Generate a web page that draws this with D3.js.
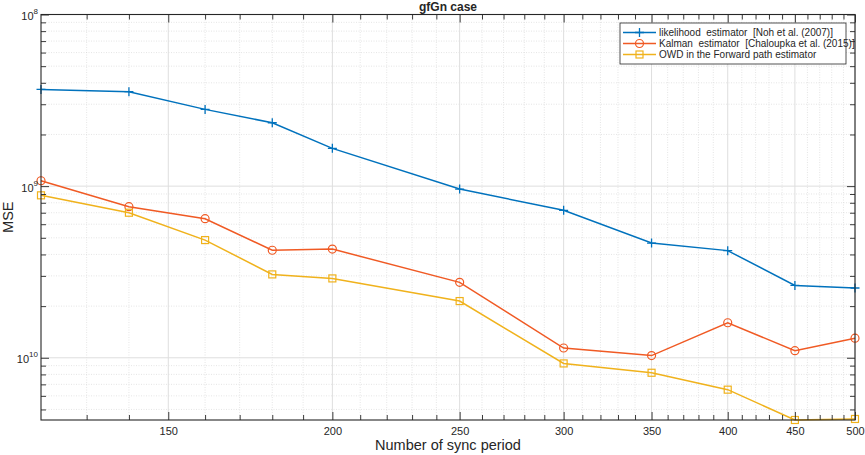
<!DOCTYPE html>
<html>
<head>
<meta charset="utf-8">
<script src="https://cdn.jsdelivr.net/npm/d3@7"></script>
<style>
  body { margin: 0; background: #fff; }
  text { font-family: "Liberation Sans", Arial, sans-serif; fill: #262626; }
</style>
</head>
<body>
<div id="chart"></div>
<script>
// values
const syncPeriods = [120, 140, 160, 180, 200, 250, 300, 350, 400, 450, 500];
const likelihoodMse = [3.66e-9, 3.55e-9, 2.80e-9, 2.34e-9, 1.66e-9, 9.62e-10, 7.23e-10, 4.66e-10, 4.21e-10, 2.64e-10, 2.55e-10];
const kalmanMse = [1.075e-9, 7.59e-10, 6.46e-10, 4.23e-10, 4.30e-10, 2.75e-10, 1.14e-10, 1.03e-10, 1.60e-10, 1.10e-10, 1.30e-10];
const owdMse = [8.84e-10, 7.00e-10, 4.85e-10, 3.06e-10, 2.90e-10, 2.14e-10, 9.27e-11, 8.18e-11, 6.52e-11, 4.34e-11, 4.40e-11];
const seriesNames = [
  'likelihood  estimator  [Noh et al. (2007)]',
  'Kalman  estimator  [Chaloupka et al. (2015)]',
  'OWD in the Forward path estimator'
];
const xTicks = [150, 200, 250, 300, 350, 400, 450, 500];
const yTicks = [1e-8, 1e-9, 1e-10];
const yTickExponents = ['8', '9', '10'];

const width = 865, height = 455;
const margin = { top: 14.5, right: 10, bottom: 35, left: 41 };
const colors = ['#0072BD', '#F05A24', '#F0B21C'];
const markers = ['plus', 'circle', 'square'];

const svg = d3.select('#chart').append('svg')
  .attr('width', width).attr('height', height);

const x = d3.scaleLog().domain([120, 500]).range([margin.left, width - margin.right]);
const y = d3.scaleLog().domain([1e-8, 4.34e-11]).range([margin.top, height - margin.bottom]);
const [x0, x1] = x.range();
const [y0, y1] = y.range();

// minor tick positions
const xMinor = d3.range(130, 500, 10).filter((v) => !xTicks.includes(v));
const yMinor = [];
[1e-11, 1e-10, 1e-9].forEach((d) => {
  for (let k = 2; k <= 9; k++) {
    const v = +(k * d).toPrecision(3);
    if (v >= 4.34e-11 && v <= 1e-8) yMinor.push(v);
  }
});

// grid
const grid = svg.append('g');
grid.selectAll('.xminor').data(xMinor).enter().append('line')
  .attr('x1', (d) => x(d)).attr('x2', (d) => x(d)).attr('y1', y0).attr('y2', y1)
  .attr('stroke', '#d4d4d4').attr('stroke-width', 0.6).attr('stroke-dasharray', '1,1.5');
grid.selectAll('.yminor').data(yMinor).enter().append('line')
  .attr('x1', x0).attr('x2', x1).attr('y1', (d) => y(d)).attr('y2', (d) => y(d))
  .attr('stroke', '#d4d4d4').attr('stroke-width', 0.6).attr('stroke-dasharray', '1,1.5');
grid.selectAll('.xmajor').data(xTicks).enter().append('line')
  .attr('x1', (d) => x(d)).attr('x2', (d) => x(d)).attr('y1', y0).attr('y2', y1)
  .attr('stroke', '#dedede').attr('stroke-width', 1);
grid.selectAll('.ymajor').data(yTicks).enter().append('line')
  .attr('x1', x0).attr('x2', x1).attr('y1', (d) => y(d)).attr('y2', (d) => y(d))
  .attr('stroke', '#dedede').attr('stroke-width', 1);

// series lines and markers
const allSeries = [likelihoodMse, kalmanMse, owdMse];
const line = d3.line().x((d) => x(d[0])).y((d) => y(d[1]));

allSeries.forEach((vals, i) => {
  const pts = syncPeriods.map((p, j) => [p, vals[j]]);
  svg.append('path').datum(pts)
    .attr('d', line).attr('fill', 'none')
    .attr('stroke', colors[i]).attr('stroke-width', 1.5);
  const g = svg.append('g');
  pts.forEach((p) => drawMarker(g, markers[i], x(p[0]), y(p[1]), colors[i]));
});

function drawMarker(g, type, cx, cy, color) {
  if (type === 'plus') {
    g.append('path').attr('d', `M${cx - 4.5},${cy}H${cx + 4.5}M${cx},${cy - 4.5}V${cy + 4.5}`)
      .attr('stroke', color).attr('stroke-width', 1.3);
  } else if (type === 'circle') {
    g.append('circle').attr('cx', cx).attr('cy', cy).attr('r', 4)
      .attr('fill', 'none').attr('stroke', color).attr('stroke-width', 1.2);
  } else {
    g.append('rect').attr('x', cx - 3.5).attr('y', cy - 3.5).attr('width', 7).attr('height', 7)
      .attr('fill', 'none').attr('stroke', color).attr('stroke-width', 1.2);
  }
}

// axes (ticks point inward, on all four sides)
const axisColor = '#262626';
function styleAxis(g) {
  g.select('.domain').remove();
  g.selectAll('.tick line').attr('stroke', axisColor).attr('stroke-width', 0.9);
}
svg.append('g').attr('transform', `translate(0,${y1})`)
  .call(d3.axisBottom(x).tickValues(xTicks).tickSize(-8).tickPadding(7).tickFormat(d3.format('d')))
  .call(styleAxis)
  .call((g) => g.selectAll('text').attr('font-size', 11).attr('fill', axisColor)
    .attr('font-family', '"Liberation Sans", Arial, sans-serif'));
svg.append('g').attr('transform', `translate(0,${y1})`)
  .call(d3.axisBottom(x).tickValues(xMinor).tickSize(-5).tickFormat('')).call(styleAxis);
svg.append('g').attr('transform', `translate(0,${y0})`)
  .call(d3.axisTop(x).tickValues(xTicks).tickSize(-8).tickFormat('')).call(styleAxis);
svg.append('g').attr('transform', `translate(0,${y0})`)
  .call(d3.axisTop(x).tickValues(xMinor).tickSize(-5).tickFormat('')).call(styleAxis);
svg.append('g').attr('transform', `translate(${x0},0)`)
  .call(d3.axisLeft(y).tickValues(yTicks).tickSize(-8).tickFormat('')).call(styleAxis);
svg.append('g').attr('transform', `translate(${x0},0)`)
  .call(d3.axisLeft(y).tickValues(yMinor).tickSize(-5).tickFormat('')).call(styleAxis);
svg.append('g').attr('transform', `translate(${x1},0)`)
  .call(d3.axisRight(y).tickValues(yTicks).tickSize(-8).tickFormat('')).call(styleAxis);
svg.append('g').attr('transform', `translate(${x1},0)`)
  .call(d3.axisRight(y).tickValues(yMinor).tickSize(-5).tickFormat('')).call(styleAxis);

// y tick labels: 10 with superscript exponent as shown
yTicks.forEach((v, i) => {
  const t = svg.append('text').attr('x', x0 - 3).attr('y', y(v) + 5.5)
    .attr('text-anchor', 'end').attr('font-size', 11);
  t.append('tspan').text('10');
  t.append('tspan').attr('dy', -6).attr('font-size', 8).text(yTickExponents[i]);
});

// box
svg.append('rect').attr('x', x0).attr('y', y0).attr('width', x1 - x0).attr('height', y1 - y0)
  .attr('fill', 'none').attr('stroke', axisColor).attr('stroke-width', 1.1);

// title and axis labels
svg.append('text').attr('x', (x0 + x1) / 2).attr('y', 11).attr('text-anchor', 'middle')
  .attr('font-size', 12).attr('font-weight', 'bold').attr('fill', '#000').text('gfGn case');
svg.append('text').attr('x', (x0 + x1) / 2).attr('y', 450).attr('text-anchor', 'middle')
  .attr('font-size', 14.5).text('Number of sync period');
svg.append('text').attr('transform', `translate(13,${(y0 + y1) / 2}) rotate(-90)`)
  .attr('text-anchor', 'middle').attr('font-size', 14.5).text('MSE');

// legend
const legend = svg.append('g');
legend.append('rect').attr('x', 620).attr('y', 23).attr('width', 226).attr('height', 41)
  .attr('fill', '#fff').attr('stroke', axisColor).attr('stroke-width', 0.8);
seriesNames.forEach((name, i) => {
  const ly = 32.5 + i * 11;
  legend.append('line').attr('x1', 623).attr('x2', 656).attr('y1', ly).attr('y2', ly)
    .attr('stroke', colors[i]).attr('stroke-width', 1.5);
  drawMarker(legend, markers[i], 639.5, ly, colors[i]);
  legend.append('text').attr('x', 659).attr('y', ly + 3.5).attr('font-size', 10)
    .style('white-space', 'pre').text(name);
});
</script>
</body>
</html>
